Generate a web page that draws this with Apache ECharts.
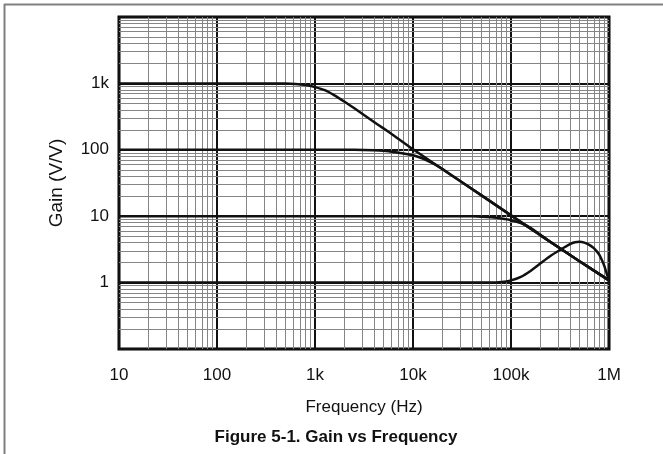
<!DOCTYPE html>
<html>
<head>
<meta charset="utf-8">
<script src="https://cdn.jsdelivr.net/npm/echarts@6/dist/echarts.min.js"></script>
<style>html,body{margin:0;padding:0;background:#fff}#c{width:663px;height:454px}</style>
</head>
<body>
<div id="c"></div>
<script>
// Frequency (Hz) / Gain (V/V) points
const freq1 = [10, 100, 300, 500, 630, 800, 1000, 1260, 1580, 2000, 2500, 3160, 4000, 5000, 6300, 10000, 20000, 50000, 100000, 200000, 500000, 1000000];
const gain1 = [1000, 1000, 1000, 995, 980, 945, 880, 790, 660, 530, 425, 335, 263, 210, 166, 102, 51, 20.6, 10.3, 5.15, 2.1, 1.08];

const freq2 = [10, 100, 1000, 2000, 3160, 4000, 5000, 6300, 8000, 10000, 12600, 15800, 20000, 25000, 50000, 100000, 200000, 500000, 1000000];
const gain2 = [100, 100, 100, 100, 99.5, 98.5, 96.5, 93, 88, 83, 74, 63, 51.5, 41, 20.6, 10.3, 5.15, 2.1, 1.08];

const freq3 = [10, 100, 1000, 10000, 30000, 40000, 50000, 63000, 80000, 100000, 126000, 158000, 200000, 250000, 500000, 1000000];
const gain3 = [10, 10, 10, 10, 10, 9.95, 9.85, 9.6, 9.2, 8.7, 7.9, 6.7, 5.25, 4.13, 2.1, 1.08];

const freq4 = [10, 100, 1000, 10000, 50000, 63000, 80000, 100000, 126000, 158000, 200000, 250000, 316000, 400000, 450000, 500000, 560000, 630000, 700000, 750000, 800000, 850000, 900000, 950000, 1000000];
const gain4 = [1, 1, 1, 1, 1, 1, 1.02, 1.08, 1.22, 1.5, 1.95, 2.5, 3.1, 3.8, 4.05, 4.12, 4.0, 3.7, 3.3, 2.95, 2.6, 2.15, 1.75, 1.35, 1.08];

const xTickValues = [10, 100, 1000, 10000, 100000, 1000000];
const xTickLabels = ['10', '100', '1k', '10k', '100k', '1M'];
const yTickValues = [0.1, 1, 10, 100, 1000, 10000];
const yTickLabels = ['', '1', '10', '100', '1k', ''];

const xName = 'Frequency (Hz)';
const yName = 'Gain (V/V)';
const titleText = 'Figure 5-1. Gain vs Frequency';

function minorsOf(decades) {
  const out = [];
  for (let i = 0; i < decades.length - 1; i++) {
    for (let m = 2; m <= 9; m++) out.push(decades[i] * m);
  }
  return out;
}
const xMinor = minorsOf(xTickValues);
const yMinor = minorsOf(yTickValues);

function labelFor(values, labels) {
  return function (v) {
    const e = Math.round(Math.log10(v));
    for (let i = 0; i < values.length; i++) {
      if (Math.round(Math.log10(values[i])) === e) return labels[i];
    }
    return '';
  };
}

function pairs(xs, ys) { return xs.map((x, i) => [x, ys[i]]); }

const FONT = 'Liberation Sans, Arial, sans-serif';
const chart = echarts.init(document.getElementById('c'), null, { renderer: 'canvas' });

const curveStyle = { color: '#111', width: 2.5 };
const curves = [[freq1, gain1], [freq2, gain2], [freq3, gain3], [freq4, gain4]].map(([xs, ys]) => ({
  type: 'line',
  data: pairs(xs, ys),
  showSymbol: false,
  symbol: 'none',
  smooth: 0.2,
  lineStyle: curveStyle,
  z: 5,
  silent: true,
  animation: false
}));

chart.setOption({
  animation: false,
  backgroundColor: '#fff',
  graphic: [
    { type: 'line', shape: { x1: 4, y1: 4.5, x2: 663, y2: 4.5 }, style: { stroke: '#808080', lineWidth: 2 } },
    { type: 'line', shape: { x1: 4.5, y1: 4, x2: 4.5, y2: 454 }, style: { stroke: '#808080', lineWidth: 2 } },
    { type: 'text', x: 336, y: 437, style: { text: titleText, fontFamily: FONT, fontSize: 17, fontWeight: 'bold', fill: '#111', textAlign: 'center', textVerticalAlign: 'middle' } }
  ],
  grid: { left: 119, top: 17, width: 490, height: 332, show: true, borderColor: '#000', borderWidth: 3, backgroundColor: 'transparent' },
  xAxis: {
    type: 'log', logBase: 10, min: 10, max: 1000000,
    name: xName, nameLocation: 'middle', nameGap: 50,
    nameTextStyle: { fontFamily: FONT, fontSize: 17, color: '#111' },
    axisLine: { show: false }, axisTick: { show: false },
    axisLabel: { formatter: labelFor(xTickValues, xTickLabels), fontFamily: FONT, fontSize: 17, color: '#111', margin: 18 },
    splitLine: { show: true, lineStyle: { color: '#111', width: 2 } }
  },
  yAxis: {
    type: 'log', logBase: 10, min: 0.1, max: 10000,
    name: yName, nameLocation: 'middle', nameGap: 53,
    nameTextStyle: { fontFamily: FONT, fontSize: 19, color: '#111' },
    axisLine: { show: false }, axisTick: { show: false },
    axisLabel: { formatter: labelFor(yTickValues, yTickLabels), fontFamily: FONT, fontSize: 17, color: '#111', margin: 10 },
    splitLine: { show: true, lineStyle: { color: '#111', width: 2 } }
  },
  series: [{
    type: 'line',
    data: [],
    z: 1,
    silent: true,
    markLine: {
      silent: true,
      symbol: ['none', 'none'],
      label: { show: false },
      animation: false,
      lineStyle: { color: '#858585', width: 1, type: 'solid' },
      emphasis: { disabled: true },
      data: xMinor.map(v => ({ xAxis: v })).concat(yMinor.map(v => ({ yAxis: v })))
    }
  }].concat(curves)
});
</script>
</body>
</html>
